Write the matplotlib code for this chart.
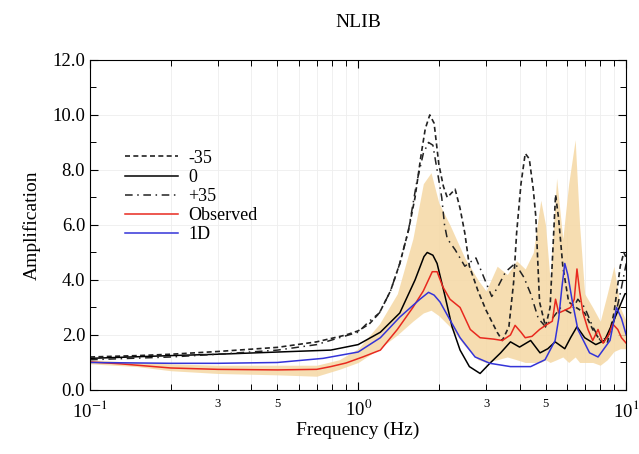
import numpy as np
import matplotlib
matplotlib.use("Agg")
import matplotlib.pyplot as plt
from matplotlib.ticker import FixedLocator, NullFormatter, MultipleLocator

plt.rcParams['font.family'] = ['Liberation Serif', 'DejaVu Serif']
plt.rcParams['mathtext.fontset'] = 'stix'

# -35 case
f_m35 = [0.1, 0.15, 0.2, 0.3, 0.5, 0.7, 0.9, 1.0, 1.1, 1.2, 1.32, 1.43, 1.54, 1.63, 1.72, 1.78,
         1.85, 1.92, 2.0, 2.08, 2.15, 2.3, 2.4, 2.5, 2.6, 2.8, 3.0, 3.3, 3.45, 3.65, 3.8, 3.9,
         4.05, 4.2, 4.35, 4.5, 4.6, 4.75, 5.0, 5.2, 5.35, 5.45, 5.6, 5.8, 6.1, 6.5, 7.0, 7.5,
         8.0, 8.5, 9.0, 9.5, 9.8, 10.0]
a_m35 = [1.2, 1.25, 1.3, 1.4, 1.55, 1.75, 2.0, 2.15, 2.4, 2.8, 3.6, 4.6, 5.8, 7.0, 8.6, 9.5,
         10.0, 9.7, 8.2, 7.4, 7.0, 7.3, 6.6, 5.7, 4.5, 3.6, 2.9, 2.1, 1.8, 2.3, 3.9, 5.7,
         7.5, 8.6, 8.4, 7.3, 6.3, 3.2, 2.3, 3.0, 5.5, 7.1, 6.2, 4.5, 3.2, 3.0, 2.8, 2.2,
         1.8, 1.7, 2.8, 4.5, 5.0, 4.8]

# 0 case
f_0 = [0.1, 0.2, 0.3, 0.5, 0.79, 1.0, 1.21, 1.43, 1.63, 1.76, 1.81, 1.9, 1.97, 2.11, 2.24,
       2.4, 2.6, 2.85, 3.1, 3.4, 3.7, 4.0, 4.4, 4.77, 5.1, 5.43, 5.9, 6.2, 6.55, 7.0, 7.7,
       8.3, 9.1, 9.9, 10.0]
a_0 = [1.15, 1.25, 1.3, 1.38, 1.45, 1.65, 2.1, 2.8, 4.0, 4.85, 5.0, 4.9, 4.6, 3.4, 2.3,
       1.45, 0.85, 0.6, 0.97, 1.35, 1.75, 1.56, 1.8, 1.35, 1.5, 1.75, 1.5, 1.9, 2.3, 1.9, 1.65,
       1.8, 2.65, 3.5, 3.5]

# +35 case
f_p35 = [0.1, 0.2, 0.3, 0.5, 0.7, 0.85, 1.0, 1.1, 1.2, 1.32, 1.43, 1.54, 1.65, 1.75, 1.83,
         1.9, 1.97, 2.05, 2.1, 2.15, 2.3, 2.5, 2.75, 3.0, 3.15, 3.3, 3.55, 3.85, 4.15, 4.4,
         4.7, 5.0, 5.3, 5.7, 6.2, 6.6, 7.0, 7.5, 8.0, 8.5, 9.0, 9.5, 10.0]
a_p35 = [1.1, 1.2, 1.3, 1.45, 1.65, 1.9, 2.1, 2.5, 2.8, 3.6, 4.6, 5.8, 7.5, 8.6, 9.0,
         8.9, 8.0, 7.0, 6.0, 5.5, 5.1, 4.5, 4.8, 3.9, 3.4, 3.7, 4.3, 4.6, 4.1, 3.5,
         2.6, 2.3, 2.6, 3.0, 2.8, 3.3, 3.0, 2.3, 1.8, 1.9, 2.5, 3.5, 4.6]

# observed
f_obs = [0.1, 0.13, 0.2, 0.3, 0.5, 0.7, 0.79, 0.9, 1.04, 1.21, 1.4, 1.6, 1.75, 1.89, 1.97,
         2.07, 2.2, 2.4, 2.62, 2.85, 3.2, 3.45, 3.7, 3.85, 4.05, 4.2, 4.45, 4.75, 5.0, 5.3,
         5.45, 5.6, 5.9, 6.2, 6.4, 6.55, 6.7, 6.9, 7.2, 7.5, 7.85, 8.2, 8.6, 8.9, 9.3, 9.6, 10.0]
a_obs = [1.02, 0.95, 0.8, 0.75, 0.73, 0.75, 0.85, 0.98, 1.2, 1.45, 2.2, 3.0, 3.6, 4.3, 4.3,
         3.75, 3.3, 3.0, 2.2, 1.9, 1.85, 1.8, 2.0, 2.35, 2.1, 1.9, 1.95, 2.2, 2.35, 2.5,
         3.3, 2.8, 2.9, 3.0, 3.3, 4.4, 3.6, 2.8, 2.2, 1.8, 2.2, 1.7, 2.0, 2.4, 2.2, 1.9, 1.7]

# 1D
f_1d = [0.1, 0.2, 0.3, 0.5, 0.74, 1.0, 1.21, 1.43, 1.7, 1.83, 1.92, 2.02, 2.2, 2.4, 2.73,
        3.1, 3.7, 4.4, 4.98, 5.43, 5.6, 5.75, 5.9, 6.05, 6.3, 6.6, 7.3, 7.85, 8.7, 9.2, 9.6, 10.0]
a_1d = [1.0, 0.97, 0.97, 1.0, 1.15, 1.38, 1.9, 2.65, 3.3, 3.55, 3.45, 3.2, 2.55, 1.9, 1.2,
        0.97, 0.85, 0.85, 1.1, 1.8, 2.6, 3.7, 4.6, 4.2, 3.2, 2.2, 1.35, 1.2, 1.8, 3.0, 2.6, 2.0]

# observed range (shaded)
f_band = [0.1, 0.15, 0.2, 0.3, 0.5, 0.7, 0.85, 1.0, 1.2, 1.4, 1.6, 1.75, 1.87, 2.0, 2.2, 2.5,
          2.8, 3.0, 3.3, 3.6, 3.9, 4.2, 4.5, 4.8, 5.0, 5.2, 5.5, 5.8, 6.1, 6.45, 6.7, 7.0,
          7.5, 8.0, 8.5, 9.0, 9.5, 10.0]
band_lo = [0.95, 0.85, 0.7, 0.6, 0.55, 0.5, 0.75, 1.0, 1.5, 2.0, 2.5, 2.8, 2.9, 2.7, 2.3, 1.6,
           1.1, 1.0, 1.1, 1.2, 1.1, 1.0, 1.0, 1.0, 1.1, 1.0, 1.1, 1.2, 1.0, 1.2, 1.0, 1.0,
           1.0, 0.9, 1.1, 1.4, 1.5, 1.5]
band_hi = [1.1, 1.0, 0.95, 0.9, 0.9, 0.9, 1.1, 1.5, 2.4, 3.5, 5.5, 7.5, 7.9, 6.8, 6.0, 4.8,
           4.0, 3.6, 4.5, 4.2, 4.7, 4.4, 5.0, 6.9, 6.0, 4.0, 7.7, 5.5, 7.5, 9.1, 6.0, 3.5,
           3.0, 2.5, 3.5, 4.5, 3.0, 2.5]

fig = plt.figure(figsize=(6.39, 4.54), dpi=100)
ax = fig.add_axes([0.141, 0.141, 0.839, 0.727])

ax.fill_between(f_band, band_lo, band_hi, color='#f5d8a4', alpha=0.85, lw=0)
ax.plot(f_m35, a_m35, color='#222222', lw=1.2, ls=(0, (3, 2)), label='-35')
ax.plot(f_0, a_0, color='black', lw=1.1, label='0')
ax.plot(f_p35, a_p35, color='#222222', lw=1.1, ls=(0, (5, 3, 1, 3)), label='+35')
ax.plot(f_obs, a_obs, color='#e8291f', lw=1.1, label='Observed')
ax.plot(f_1d, a_1d, color='#3434d8', lw=1.1, label='1D')

ax.set_xscale('log')
ax.set_xlim(0.1, 10)
ax.set_ylim(0, 12)

ax.xaxis.set_major_locator(FixedLocator([0.1, 1, 10]))
ax.set_xticklabels(['10$^{-1}$', '10$^{0}$', '10$^{1}$'])
minors = [0.2, 0.3, 0.4, 0.5, 0.6, 0.7, 0.8, 0.9, 2, 3, 4, 5, 6, 7, 8, 9]
ax.xaxis.set_minor_locator(FixedLocator(minors))
ax.xaxis.set_minor_formatter(NullFormatter())
# small labels on the 3 and 5 minor ticks
for v in [0.3, 0.5, 3, 5]:
    ax.text(v, -0.3, str(v)[-1], ha='center', va='top', fontsize=9)

ax.yaxis.set_major_locator(MultipleLocator(2))
ax.yaxis.set_minor_locator(MultipleLocator(1))
ax.set_yticklabels([f"{v:.1f}" for v in ax.get_yticks()])

ax.tick_params(which='both', direction='in', top=True, right=True, labelsize=13.5)
ax.tick_params(which='major', length=6, width=0.8)
ax.tick_params(which='minor', length=4, width=0.7)
ax.tick_params(axis='x', which='major', pad=7)

ax.grid(True, which='both', axis='x', color='#eeeeee', lw=0.6)
ax.grid(True, which='major', axis='y', color='#eeeeee', lw=0.6)
ax.set_axisbelow(True)

ax.set_xlabel('Frequency (Hz)', fontsize=14, labelpad=1)
ax.set_ylabel('Amplification', fontsize=14, labelpad=8)
ax.set_title('NLIB', fontsize=14, pad=24)

ax.legend(loc='upper left', bbox_to_anchor=(0.052, 0.75), frameon=False, fontsize=13,
          handlelength=2.9, labelspacing=0.12, handletextpad=0.6, borderaxespad=0)

fig.savefig('out.png', dpi=100)
